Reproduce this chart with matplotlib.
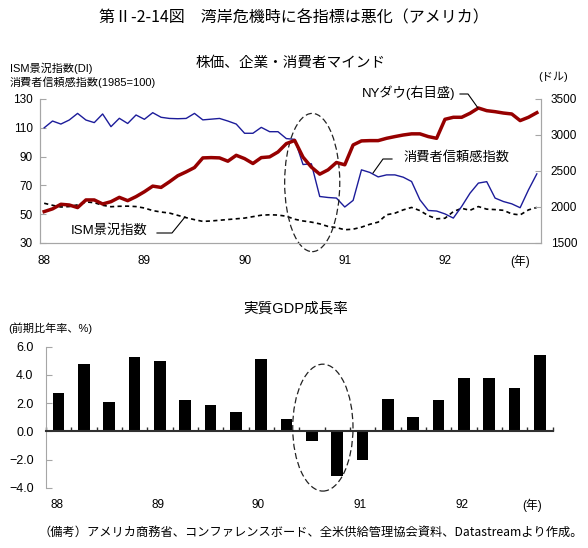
import matplotlib
matplotlib.use('Agg')
import matplotlib.pyplot as plt
import numpy as np
from matplotlib.patches import Ellipse
from matplotlib.lines import Line2D

plt.rcParams['font.family'] = ['Liberation Sans', 'Noto Sans CJK JP', 'DejaVu Sans']

# ---------------- data ----------------
year_labels = ['88', '89', '90', '91', '92']

consumer_conf = [110.0, 114.7, 112.6, 115.4, 120.0, 115.4, 113.6, 119.6, 110.8, 116.6, 113.0, 118.9,
                 115.9, 120.5, 117.3, 116.5, 116.3, 116.5, 120.0, 115.5, 116.0, 116.5, 114.7, 112.6,
                 106.2, 106.2, 110.3, 107.3, 107.3, 102.5, 102.0, 84.5, 85.0, 62.3, 61.6, 61.2,
                 55.0, 59.6, 80.8, 79.0, 75.9, 77.3, 77.3, 75.7, 72.7, 60.0, 52.6, 52.2,
                 50.2, 47.3, 55.4, 64.6, 71.6, 72.6, 61.2, 58.8, 57.2, 54.5, 66.9, 78.0]

ism_index = [57.6, 56.2, 55.0, 55.3, 56.5, 58.5, 58.0, 56.2, 55.2, 55.5, 55.6, 55.3,
             54.3, 52.5, 51.5, 50.8, 49.2, 47.6, 46.2, 45.0, 45.3, 45.8, 46.3, 46.8,
             47.3, 48.3, 49.3, 49.6, 49.4, 48.6, 46.5, 45.3, 44.5, 43.3, 41.5, 40.7,
             39.2, 39.6, 41.0, 43.0, 44.5, 49.6, 50.7, 53.0, 54.7, 52.5, 49.0, 46.8,
             47.2, 51.8, 54.1, 52.7, 55.3, 53.5, 53.2, 52.7, 50.2, 49.5, 53.0, 54.7]

ny_dow = [1936, 1974, 2038, 2028, 1992, 2098, 2098, 2042, 2074, 2134, 2088, 2144,
          2212, 2290, 2272, 2350, 2434, 2488, 2548, 2682, 2686, 2682, 2636, 2718,
          2672, 2604, 2686, 2696, 2764, 2880, 2924, 2692, 2554, 2456, 2516, 2618,
          2586, 2862, 2918, 2922, 2922, 2954, 2978, 3000, 3016, 3016, 2978, 2954,
          3218, 3246, 3246, 3302, 3375, 3338, 3324, 3305, 3292, 3200, 3246, 3310]

gdp_growth = [2.7, 4.8, 2.1, 5.3, 5.0, 2.2, 1.9, 1.4, 5.1, 0.9,
              -0.7, -3.2, -2.0, 2.3, 1.0, 2.2, 3.8, 3.8, 3.1, 5.4]

left_ticks = [30, 50, 70, 90, 110, 130]
right_ticks = [1500, 2000, 2500, 3000, 3500]
gdp_ticks = [-4.0, -2.0, 0.0, 2.0, 4.0, 6.0]

# ---------------- style ----------------
BLUE = '#1c1c9a'
RED = '#960000'
GRAY = '#a6a6a6'
W, H = 588, 548

fig = plt.figure(figsize=(W / 100, H / 100), dpi=100)


def rect(l, t, r, b):
    return [l / W, 1 - b / H, (r - l) / W, (b - t) / H]


def ftext(px, py, s, **kw):
    fig.text(px / W, 1 - py / H, s, **kw)


def fline(pxs, pys, **kw):
    fig.add_artist(Line2D([p / W for p in pxs], [1 - p / H for p in pys],
                          transform=fig.transFigure, **kw))


# ---------------- top chart ----------------
ax1 = fig.add_axes(rect(40, 99, 541, 243))
months = np.arange(len(consumer_conf))
ax1.plot(months, ism_index, color='black', lw=1.2, ls=(0, (2.5, 2)))
ax1.plot(months, consumer_conf, color=BLUE, lw=1.0)
ax1.set_xlim(-0.5, 59.5)
ax1.set_ylim(30, 130)
ax1.set_yticks(left_ticks)
ax1.set_xticks([0, 12, 24, 36, 48])
ax1.set_xticklabels(year_labels)
ax1.tick_params(axis='y', direction='in', length=4, color=GRAY, labelsize=8.5, pad=5)
ax1.tick_params(axis='x', length=0, labelsize=8.5, pad=9)
ax1.spines['top'].set_visible(False)
for s in ['left', 'bottom', 'right']:
    ax1.spines[s].set_color(GRAY)

ax1r = ax1.twinx()
ax1r.plot(months, ny_dow, color=RED, lw=2.5)
ax1r.set_ylim(1500, 3500)
ax1r.set_yticks(right_ticks)
ax1r.tick_params(axis='y', direction='in', length=4, color=GRAY, labelsize=8.5, pad=7)
ax1r.spines['top'].set_visible(False)
for s in ['left', 'bottom', 'right']:
    ax1r.spines[s].set_color(GRAY)

ax1r.add_patch(Ellipse((32.1, 2340), 6.6, 1920, fill=False, ec='#222222', lw=0.9,
                       ls=(0, (5, 2.5)), clip_on=False, transform=ax1r.transData))

# ---------------- bottom chart ----------------
ax2 = fig.add_axes(rect(46, 346.7, 552.6, 487.7))
quarters = np.arange(len(gdp_growth))
ax2.bar(quarters, gdp_growth, width=0.46, color='black', zorder=2)
ax2.set_xlim(-0.5, 19.5)
ax2.set_ylim(-4, 6)
ax2.set_yticks(gdp_ticks)
ax2.set_yticklabels([('%.1f' % v).replace('-', '\u2212') for v in gdp_ticks])
ax2.tick_params(axis='y', direction='in', length=4, color=GRAY, labelsize=9, pad=9)
ax2.spines['top'].set_visible(False)
ax2.spines['right'].set_visible(False)
ax2.spines['left'].set_color(GRAY)
ax2.spines['bottom'].set_position(('data', 0))
ax2.spines['bottom'].set_color('#303030')
ax2.spines['bottom'].set_linewidth(1.5)
ax2.spines['bottom'].set_zorder(3)
ax2.set_xticks(np.arange(-0.5, 20, 1))
ax2.set_xticklabels([])
ax2.tick_params(axis='x', direction='in', length=3, width=1, color='#303030')
ax2.add_patch(Ellipse((10.43, 0.26), 2.38, 9.0, fill=False, ec='#222222', lw=0.9,
                      ls=(0, (5, 2.5)), clip_on=False, zorder=4))

# ---------------- texts ----------------
JP = ['Noto Sans CJK JP', 'DejaVu Sans']
ftext(294, 18, '第Ⅱ-2-14図　湾岸危機時に各指標は悪化（アメリカ）', ha='center', va='center',
      fontsize=11.5, family=JP)
ftext(291, 63, '株価、企業・消費者マインド', ha='center', va='center', fontsize=10.5, family=JP)
ftext(10, 68, 'ISM景況指数(DI)', ha='left', va='center', fontsize=8)
ftext(10, 82, '消費者信頼感指数(1985=100)', ha='left', va='center', fontsize=8)
ftext(568, 77, '(ドル)', ha='right', va='center', fontsize=8)
ftext(520, 261, '(年)', ha='center', va='center', fontsize=8.5)

ftext(455, 93, 'NYダウ(右目盛)', ha='right', va='center', fontsize=9.5)
fline([460, 468, 478], [94, 94, 108], color='black', lw=0.8)
ftext(403, 158, '消費者信頼感指数', ha='left', va='center', fontsize=9.5)
fline([392, 383, 373], [159, 159, 173], color='black', lw=0.8)
ftext(147, 231, 'ISM景況指数', ha='right', va='center', fontsize=9.5)
fline([157, 172, 185], [233, 233, 217], color='black', lw=0.8)

ftext(296, 309, '実質GDP成長率', ha='center', va='center', fontsize=10.5)
ftext(8, 328, '(前期比年率、%)', ha='left', va='center', fontsize=8)
for lbl, px in zip(year_labels, [57, 158, 258, 360, 462]):
    ftext(px, 505, lbl, ha='center', va='center', fontsize=8.5)
ftext(532, 505, '(年)', ha='center', va='center', fontsize=8.5)

ftext(311, 532, '（備考）アメリカ商務省、コンファレンスボード、全米供給管理協会資料、Datastreamより作成。',
      ha='center', va='center', fontsize=8.8, family=JP)

fig.savefig('out.png', dpi=100)
